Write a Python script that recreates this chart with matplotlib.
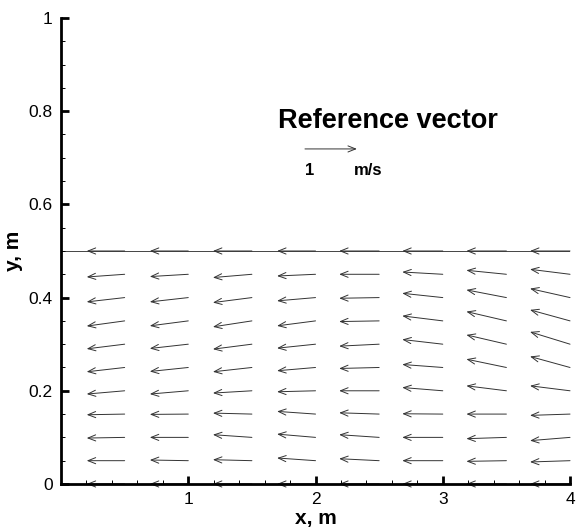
import matplotlib
matplotlib.use("Agg")
import matplotlib.pyplot as plt
from matplotlib.ticker import MultipleLocator

plt.rcParams['font.family'] = ['Liberation Sans', 'DejaVu Sans']

# grid of vector origins (m)
x_cols = [0.5, 1.0, 1.5, 2.0, 2.5, 3.0, 3.5, 4.0]
y_rows = [0.0, 0.05, 0.10, 0.15, 0.20, 0.25, 0.30, 0.35, 0.40, 0.45, 0.50]

# horizontal velocity per column (m/s)
u_cols = [-0.73, -0.74, -0.75, -0.74, -0.77, -0.78, -0.77, -0.77]

# vertical velocity, one row per y value (bottom to top), columns as x_cols (m/s)
v_grid = [
    [0.0, 0.0, 0.0, 0.0, 0.0, 0.0, 0.0, 0.0],
    [0.0, 0.013, 0.019, 0.052, 0.038, 0.0, -0.013, -0.025],
    [-0.013, 0.0, 0.052, 0.063, 0.052, 0.0, -0.025, -0.063],
    [-0.013, -0.006, 0.019, 0.052, 0.025, 0.006, 0.0, -0.025],
    [-0.063, -0.063, -0.044, -0.019, 0.0, 0.063, 0.096, 0.096],
    [-0.083, -0.077, -0.083, -0.063, -0.019, 0.058, 0.160, 0.212],
    [-0.090, -0.083, -0.096, -0.077, -0.038, 0.090, 0.179, 0.237],
    [-0.100, -0.096, -0.115, -0.096, -0.013, 0.096, 0.179, 0.212],
    [-0.083, -0.083, -0.096, -0.063, -0.013, 0.083, 0.148, 0.173],
    [-0.052, -0.044, -0.063, -0.033, 0.0, 0.044, 0.077, 0.096],
    [0.0, 0.0, 0.0, 0.0, 0.0, 0.0, 0.0, 0.0],
]

# domain boundary (top and right edges)
domain_x = [0, 4, 4]
domain_y = [0.5, 0.5, 0]

ref_speed = 1.0          # m/s
pts_per_ms = 37.4        # arrow length in points for 1 m/s

fig = plt.figure(figsize=(5.79, 5.29), dpi=100)
ax = fig.add_axes([0.1054, 0.0851, 0.8791, 0.8809])

ax.plot(domain_x, domain_y, color='#444444', lw=0.7, zorder=1)

arrow_style = '<-,head_length=0.55,head_width=0.22'
for i, y in enumerate(y_rows):
    for j, x in enumerate(x_cols):
        u = u_cols[j]
        v = v_grid[i][j]
        ax.annotate('', xy=(x, y), xytext=(u * pts_per_ms, v * pts_per_ms),
                    textcoords='offset points', annotation_clip=False,
                    arrowprops=dict(arrowstyle=arrow_style, color='#333333',
                                    lw=0.7, shrinkA=0, shrinkB=0),
                    zorder=1)

# reference vector
ax.annotate('', xy=(1.917, 0.719), xytext=(ref_speed * pts_per_ms, 0),
            textcoords='offset points',
            arrowprops=dict(arrowstyle=arrow_style, color='#333333',
                            lw=0.7, shrinkA=0, shrinkB=0))
ax.text(2.57, 0.779, 'Reference vector', fontsize=19.5, fontweight='bold',
        ha='center', va='center')
ax.text(1.957, 0.672, '1', fontsize=12, fontweight='bold', ha='center', va='center')
ax.text(2.41, 0.672, 'm/s', fontsize=12, fontweight='bold', ha='center', va='center')

ax.set_xlim(0, 4)
ax.set_ylim(0, 1)
ax.xaxis.set_minor_locator(MultipleLocator(0.2))
ax.yaxis.set_minor_locator(MultipleLocator(0.05))
ax.set_xticks([1, 2, 3, 4])
ax.set_xticklabels(['1', '2', '3', '4'])
ax.set_yticks([0, 0.2, 0.4, 0.6, 0.8, 1.0])
ax.set_yticklabels(['0', '0.2', '0.4', '0.6', '0.8', '1'])

for side in ['top', 'right']:
    ax.spines[side].set_visible(False)
for side in ['left', 'bottom']:
    ax.spines[side].set_linewidth(2.0)

ax.tick_params(which='major', direction='in', length=6, width=2.0, labelsize=12.5, pad=6)
ax.tick_params(which='minor', direction='in', length=3, width=0.7)

ax.set_xlabel('x, m', fontsize=15, fontweight='bold', labelpad=1)
ax.set_ylabel('y, m', fontsize=15, fontweight='bold', labelpad=4)

fig.savefig('out.png', dpi=100)
